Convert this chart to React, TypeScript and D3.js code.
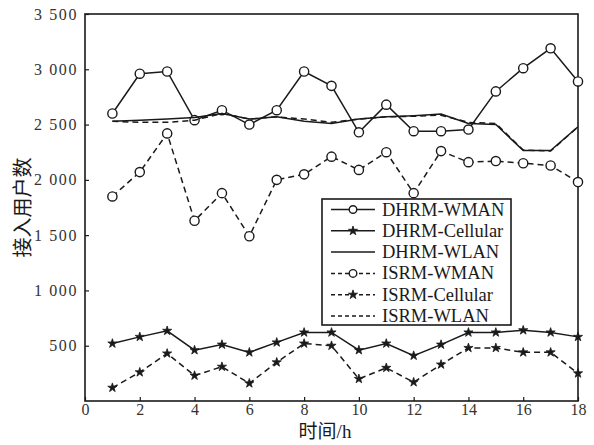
import { useEffect, useRef } from "react";
import * as d3 from "d3";

const hours = [1, 2, 3, 4, 5, 6, 7, 8, 9, 10, 11, 12, 13, 14, 15, 16, 17, 18];

const dhrmWman = [2600, 2960, 2980, 2540, 2630, 2500, 2630, 2980, 2850, 2430, 2680, 2440, 2440, 2455, 2800, 3010, 3190, 2890];
const dhrmCellular = [520, 580, 635, 460, 510, 440, 530, 620, 620, 460, 520, 410, 510, 620, 620, 640, 620, 580];
const dhrmWlan = [2530, 2540, 2550, 2565, 2600, 2550, 2570, 2530, 2510, 2550, 2570, 2580, 2595, 2510, 2500, 2265, 2265, 2480];
const isrmWman = [1850, 2070, 2420, 1630, 1880, 1490, 2000, 2050, 2210, 2090, 2250, 1880, 2260, 2160, 2170, 2150, 2130, 1980];
const isrmCellular = [120, 260, 430, 230, 310, 160, 350, 520, 500, 200, 300, 170, 330, 480, 480, 440, 440, 250];
const isrmWlan = [2530, 2520, 2520, 2540, 2600, 2550, 2570, 2550, 2520, 2550, 2570, 2575, 2585, 2520, 2510, 2270, 2260, 2480];

const seriesNames = ["DHRM-WMAN", "DHRM-Cellular", "DHRM-WLAN", "ISRM-WMAN", "ISRM-Cellular", "ISRM-WLAN"];
const seriesValues = [dhrmWman, dhrmCellular, dhrmWlan, isrmWman, isrmCellular, isrmWlan];
const seriesDashed = [false, false, false, true, true, true];
const seriesMarker = ["circle", "star", "none", "circle", "star", "none"];

const xTicks = [0, 2, 4, 6, 8, 10, 12, 14, 16, 18];
const yTicks = [500, 1000, 1500, 2000, 2500, 3000, 3500];
const yTickLabels = ["500", "1 000", "1 500", "2 000", "2 500", "3 000", "3 500"];

const FONT = "'Liberation Serif', 'Times New Roman', 'Noto Sans CJK SC', serif";
const INK = "#1a1a1a";

function App() {
  const ref = useRef<HTMLDivElement>(null);

  useEffect(() => {
    const container = d3.select(ref.current);
    container.selectAll("*").remove();

    const width = 594;
    const height = 445;
    const margin = { top: 14, right: 16, bottom: 44, left: 85 };

    const svg = container
      .append("svg")
      .attr("width", width)
      .attr("height", height)
      .style("position", "fixed")
      .style("left", 0)
      .style("top", 0)
      .style("background", "#fff");

    const x = d3.scaleLinear().domain([0, 18]).range([margin.left, width - margin.right]);
    const y = d3.scaleLinear().domain([0, 3500]).range([height - margin.bottom, margin.top]);

    // frame
    svg
      .append("rect")
      .attr("x", x(0))
      .attr("y", y(3500))
      .attr("width", x(18) - x(0))
      .attr("height", y(0) - y(3500))
      .attr("fill", "none")
      .attr("stroke", INK)
      .attr("stroke-width", 1.6);

    const xAxis = svg
      .append("g")
      .attr("transform", `translate(0,${y(0)})`)
      .call(d3.axisBottom(x).tickValues(xTicks).tickSizeInner(-4).tickSizeOuter(0).tickPadding(3));
    const yAxis = svg
      .append("g")
      .attr("transform", `translate(${x(0)},0)`)
      .call(
        d3
          .axisLeft(y)
          .tickValues(yTicks)
          .tickSizeInner(-4)
          .tickSizeOuter(0)
          .tickPadding(7)
          .tickFormat((d, i) => yTickLabels[i])
      );
    [xAxis, yAxis].forEach((g) => {
      g.select(".domain").remove();
      g.selectAll("line").attr("stroke", INK).attr("stroke-width", 1.2);
      g.selectAll("text").attr("fill", "#333").style("font-family", FONT).style("font-size", "16px");
    });
    yAxis.selectAll("text").style("letter-spacing", "1.6px");

    const line = d3
      .line<number>()
      .x((d, i) => x(hours[i]))
      .y((d) => y(d));

    const star = d3.symbol().type(d3.symbolStar).size(26);

    const drawMarker = (g: any, kind: string, cx: number, cy: number, r = 4.6) => {
      if (kind === "circle") {
        g.append("circle")
          .attr("cx", cx)
          .attr("cy", cy)
          .attr("r", r)
          .attr("fill", "#fff")
          .attr("stroke", INK)
          .attr("stroke-width", 1.4);
      } else if (kind === "star") {
        g.append("path")
          .attr("d", star())
          .attr("transform", `translate(${cx},${cy})`)
          .attr("fill", INK)
          .attr("stroke", INK)
          .attr("stroke-width", 0.8);
      }
    };

    seriesValues.forEach((vals, s) => {
      const g = svg.append("g");
      g.append("path")
        .datum(vals)
        .attr("fill", "none")
        .attr("stroke", INK)
        .attr("stroke-width", 1.5)
        .attr("stroke-dasharray", seriesDashed[s] ? "6,4" : null)
        .attr("d", line);
      vals.forEach((v, i) => drawMarker(g, seriesMarker[s], x(hours[i]), y(v)));
    });

    // legend
    const lg = svg.append("g");
    const lx = 322;
    const ly = 199;
    lg.append("rect")
      .attr("x", lx)
      .attr("y", ly)
      .attr("width", 189)
      .attr("height", 126)
      .attr("fill", "#fff")
      .attr("stroke", INK)
      .attr("stroke-width", 1.6);
    seriesNames.forEach((name, s) => {
      const cy = ly + 10.5 + s * 21.3;
      lg.append("line")
        .attr("x1", lx + 9)
        .attr("x2", lx + 53)
        .attr("y1", cy)
        .attr("y2", cy)
        .attr("stroke", INK)
        .attr("stroke-width", 1.5)
        .attr("stroke-dasharray", seriesDashed[s] ? "4,3" : null);
      drawMarker(lg, seriesMarker[s], lx + 31, cy, 3.8);
      lg.append("text")
        .attr("x", lx + 60)
        .attr("y", cy + 6)
        .attr("fill", INK)
        .style("font-family", FONT)
        .style("font-size", "18.5px")
        .text(name);
    });

    svg
      .append("text")
      .attr("transform", `translate(30,${(y(0) + y(3500)) / 2}) rotate(-90)`)
      .attr("text-anchor", "middle")
      .attr("fill", INK)
      .style("font-family", FONT)
      .style("font-size", "20px")
      .text("接入用户数");

    svg
      .append("text")
      .attr("x", 325)
      .attr("y", 438)
      .attr("text-anchor", "middle")
      .attr("fill", INK)
      .style("font-family", FONT)
      .style("font-size", "19px")
      .text("时间/h");
  }, []);

  return <div ref={ref} />;
}

export default App;
